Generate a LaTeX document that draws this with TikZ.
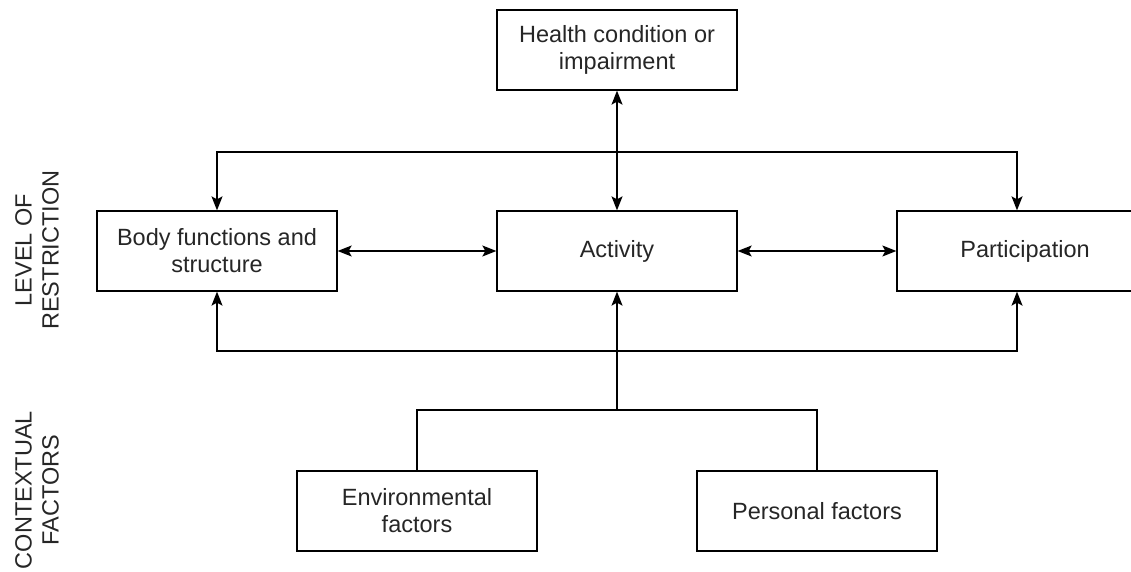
\documentclass[tikz,border=0pt]{standalone}
\usepackage{fontspec}
\setmainfont{Liberation Sans}
\usetikzlibrary{arrows.meta, positioning}

\begin{document}
\begin{tikzpicture}[x=1pt, y=-1pt,
  every node/.style={font=\fontsize{23.5}{27}\selectfont, text=black!85},
  box/.style={draw, line width=1.3pt, minimum width=240pt, minimum height=80pt,
    align=center, inner sep=2pt},
  sidelabel/.style={rotate=90, align=center},
  link/.style={line width=1.3pt},
  arr/.style={link, -{Stealth[length=14pt, width=11pt, inset=3pt]}},
  dbl/.style={link, {Stealth[length=14pt, width=11pt, inset=3pt]}-{Stealth[length=14pt, width=11pt, inset=3pt]}},
]
  \useasboundingbox (0,0) rectangle (1131,572);

  \node[box] (health) at (617,50) {Health condition or\\impairment};
  \node[box] (body) at (217,251) {Body functions and\\structure};
  \node[box] (activity) at (617,251) {Activity};
  \node[box, minimum width=256pt] (part) at (1025,251) {Participation};
  \node[box] (env) at (417,511) {Environmental\\factors};
  \node[box] (pers) at (817,511) {Personal factors};

  \node[sidelabel] (restrict) at (37,250) {LEVEL OF\\RESTRICTION};
  \node[sidelabel] (context) at (37,490) {CONTEXTUAL\\FACTORS};

  \coordinate (upper) at (617,152);
  \coordinate (lower) at (617,351);
  \coordinate (join) at (617,410);

  \draw[dbl] (health) -- (activity);
  \draw[dbl] (body.north) |- (upper) -| ([xshift=-8pt]part.north);
  \draw[dbl] (body.south) |- (lower) -| ([xshift=-8pt]part.south);
  \draw[dbl] (body) -- (activity);
  \draw[dbl] (activity) -- (part);
  \draw[arr] (join) -- (activity.south);
  \draw[link] (env.north) |- (join) -| (pers.north);
\end{tikzpicture}
\end{document}
